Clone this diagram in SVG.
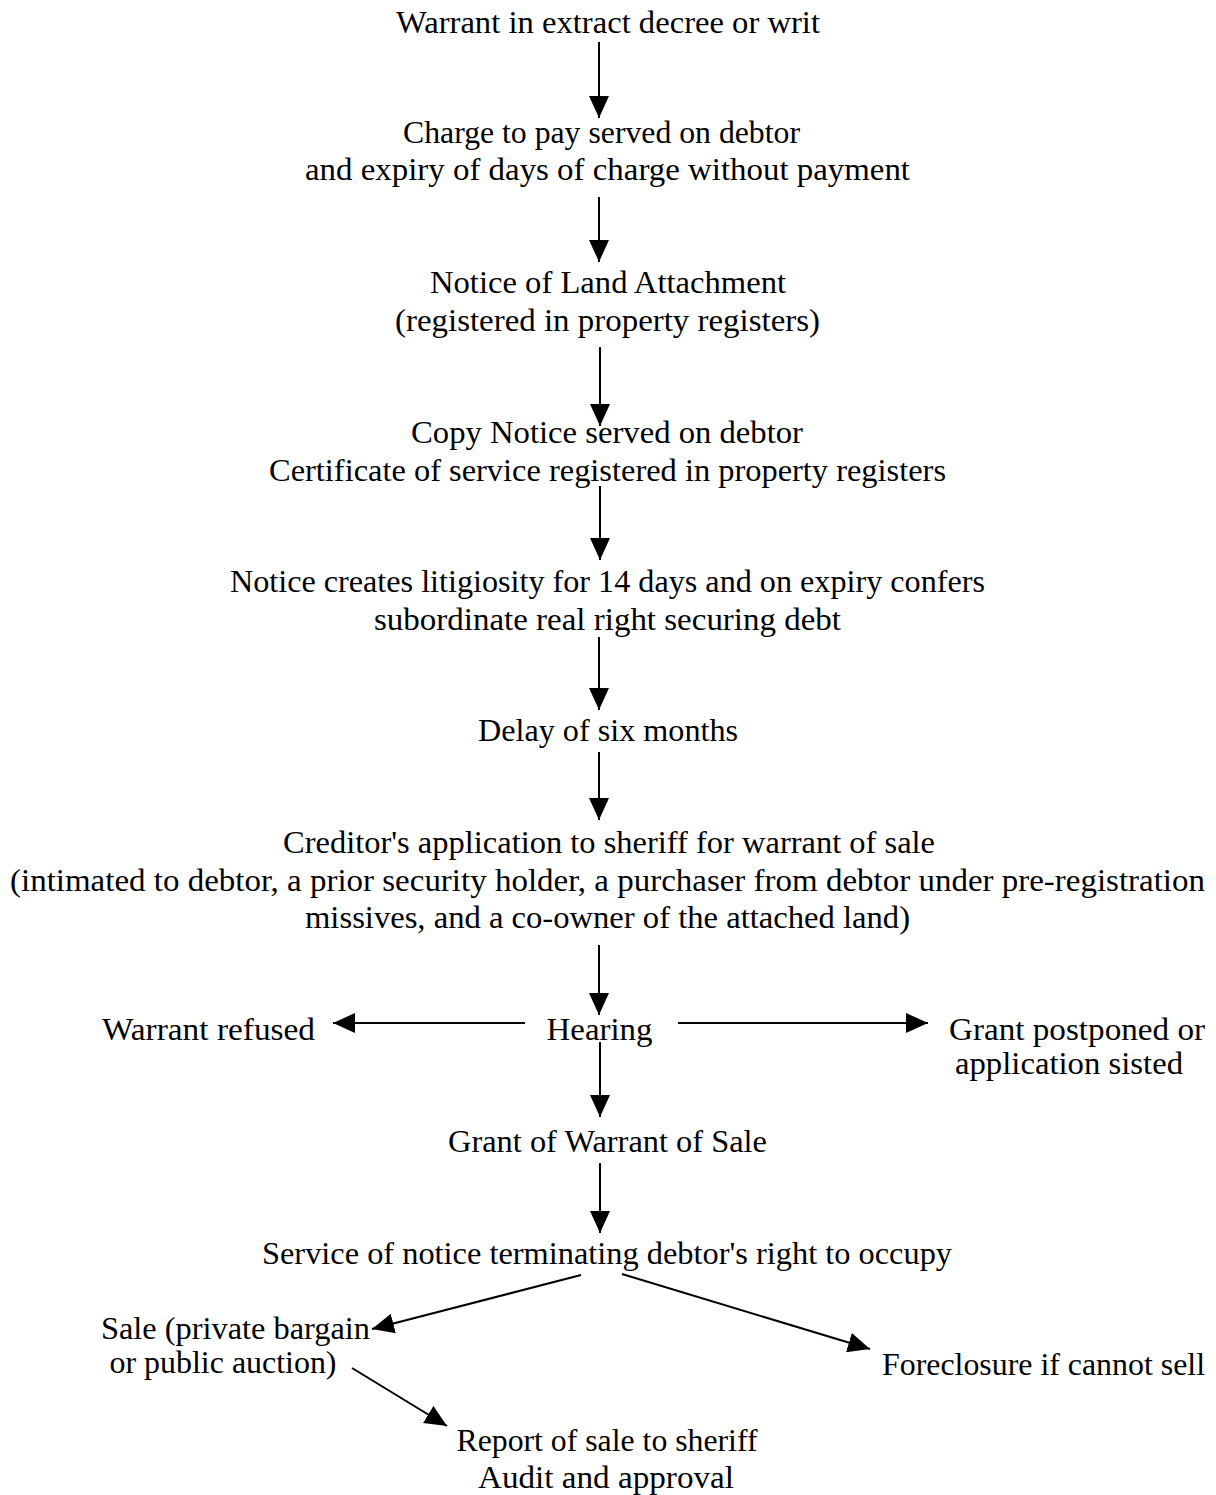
<svg xmlns="http://www.w3.org/2000/svg" width="1216" height="1495" viewBox="0 0 1216 1495">
<style>
text{font-family:"Liberation Serif","Times New Roman",serif;font-size:32px;fill:#000;text-anchor:middle}
.c line{stroke:#000;stroke-width:2;marker-end:url(#ah)}
</style>
<defs>
<marker id="ah" markerUnits="userSpaceOnUse" markerWidth="22" markerHeight="20" refX="22" refY="10" orient="auto" viewBox="0 0 22 20">
<path d="M0,0 L22,10 L0,20 z" fill="#000"/>
</marker>
</defs>
<rect width="1216" height="1495" fill="#fff"/>
<g id="n1"><text x="608" y="33" textLength="424" lengthAdjust="spacingAndGlyphs">Warrant in extract decree or writ</text></g>
<g id="n2"><text x="601.5" y="143" textLength="397" lengthAdjust="spacingAndGlyphs">Charge to pay served on debtor</text><text x="607.5" y="180" textLength="605" lengthAdjust="spacingAndGlyphs">and expiry of days of charge without payment</text></g>
<g id="n3"><text x="608" y="293" textLength="356" lengthAdjust="spacingAndGlyphs">Notice of Land Attachment</text><text x="607.5" y="331" textLength="425" lengthAdjust="spacingAndGlyphs">(registered in property registers)</text></g>
<g id="n4"><text x="607" y="443" textLength="392" lengthAdjust="spacingAndGlyphs">Copy Notice served on debtor</text><text x="607.5" y="481" textLength="677" lengthAdjust="spacingAndGlyphs">Certificate of service registered in property registers</text></g>
<g id="n5"><text x="607.5" y="592" textLength="755" lengthAdjust="spacingAndGlyphs">Notice creates litigiosity for 14 days and on expiry confers</text><text x="607.5" y="630" textLength="467" lengthAdjust="spacingAndGlyphs">subordinate real right securing debt</text></g>
<g id="n6"><text x="608" y="741" textLength="260" lengthAdjust="spacingAndGlyphs">Delay of six months</text></g>
<g id="n7"><text x="609" y="853" textLength="652" lengthAdjust="spacingAndGlyphs">Creditor's application to sheriff for warrant of sale</text><text x="607.5" y="891" textLength="1195" lengthAdjust="spacingAndGlyphs">(intimated to debtor, a prior security holder, a purchaser from debtor under pre-registration</text><text x="607.5" y="928" textLength="605" lengthAdjust="spacingAndGlyphs">missives, and a co-owner of the attached land)</text></g>
<g id="n8"><text x="599.5" y="1040" textLength="106" lengthAdjust="spacingAndGlyphs">Hearing</text></g>
<g id="n9"><text x="208.5" y="1040" textLength="213" lengthAdjust="spacingAndGlyphs">Warrant refused</text></g>
<g id="n10"><text x="1077" y="1040" textLength="256" lengthAdjust="spacingAndGlyphs">Grant postponed or</text><text x="1069" y="1074" textLength="228" lengthAdjust="spacingAndGlyphs">application sisted</text></g>
<g id="n11"><text x="607.5" y="1152" textLength="319" lengthAdjust="spacingAndGlyphs">Grant of Warrant of Sale</text></g>
<g id="n12"><text x="607" y="1264" textLength="690" lengthAdjust="spacingAndGlyphs">Service of notice terminating debtor's right to occupy</text></g>
<g id="n13"><text x="235.5" y="1339" textLength="269" lengthAdjust="spacingAndGlyphs">Sale (private bargain</text><text x="223" y="1373" textLength="227" lengthAdjust="spacingAndGlyphs">or public auction)</text></g>
<g id="n14"><text x="1043.5" y="1375" textLength="323" lengthAdjust="spacingAndGlyphs">Foreclosure if cannot sell</text></g>
<g id="n15"><text x="607" y="1451" textLength="301" lengthAdjust="spacingAndGlyphs">Report of sale to sheriff</text><text x="606" y="1488" textLength="256" lengthAdjust="spacingAndGlyphs">Audit and approval</text></g>
<g id="connectors" class="c">
<line x1="599" y1="42" x2="599" y2="118"/>
<line x1="599" y1="197" x2="599" y2="262"/>
<line x1="600" y1="347" x2="600" y2="426"/>
<line x1="600" y1="486" x2="600" y2="560"/>
<line x1="599" y1="637" x2="599" y2="710"/>
<line x1="599" y1="752" x2="599" y2="820"/>
<line x1="599" y1="945" x2="599" y2="1015"/>
<line x1="525" y1="1023" x2="333" y2="1023"/>
<line x1="678" y1="1023" x2="928" y2="1023"/>
<line x1="600" y1="1042" x2="600" y2="1117"/>
<line x1="600" y1="1163" x2="600" y2="1233"/>
<line x1="581" y1="1275" x2="372" y2="1329"/>
<line x1="622" y1="1274" x2="870" y2="1349"/>
<line x1="352" y1="1368" x2="447" y2="1426"/>
</g>
</svg>
